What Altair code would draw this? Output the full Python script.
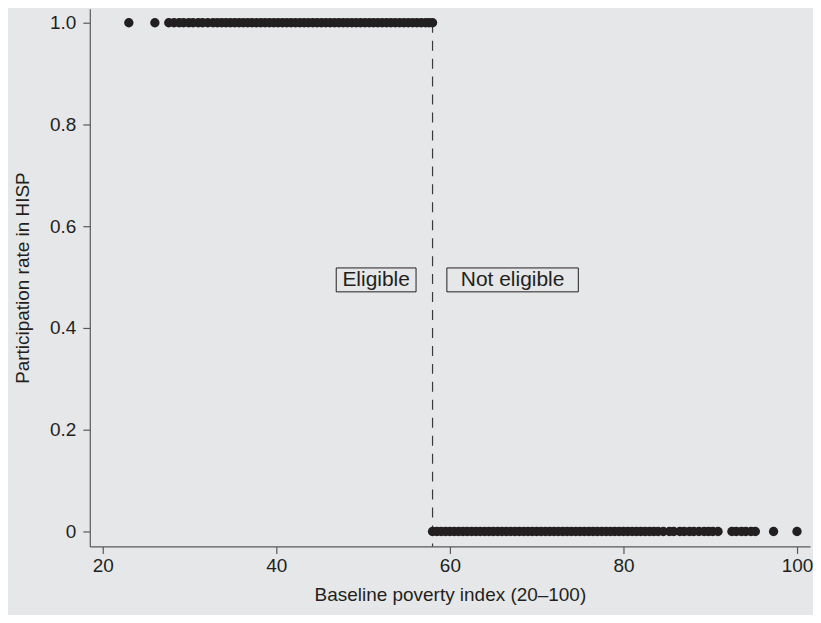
import altair as alt
import pandas as pd

# Participants (eligible, score below cutoff) – participation rate 1
top_x = [23.0, 26.0, 27.6, 28.2, 28.8, 29.3, 29.9, 30.4, 31.0, 31.5, 32.1, 32.7,
         33.2, 33.7, 34.2, 34.7, 35.2, 35.7, 36.2, 36.7, 37.2, 37.7, 38.2, 38.7,
         39.2, 39.7, 40.2, 40.7, 41.2, 41.7, 42.2, 42.7, 43.2, 43.7, 44.2, 44.7,
         45.2, 45.7, 46.2, 46.7, 47.2, 47.7, 48.2, 48.7, 49.2, 49.7, 50.2, 50.7,
         51.2, 51.7, 52.2, 52.7, 53.2, 53.7, 54.2, 54.7, 55.2, 55.7, 56.2, 56.7,
         57.2, 57.6, 58.0]
# Non-eligible (score above cutoff) – participation rate 0
bottom_x = [58.0, 58.5, 59.0, 59.5, 60.0, 60.5, 61.0, 61.5, 62.0, 62.5, 63.0,
            63.5, 64.0, 64.5, 65.0, 65.5, 66.0, 66.5, 67.0, 67.5, 68.0, 68.5,
            69.0, 69.5, 70.0, 70.5, 71.0, 71.5, 72.0, 72.5, 73.0, 73.5, 74.0,
            74.5, 75.0, 75.5, 76.0, 76.5, 77.0, 77.5, 78.0, 78.5, 79.0, 79.5,
            80.0, 80.5, 81.0, 81.5, 82.0, 82.5, 83.0, 83.5, 84.0, 84.6, 85.3,
            85.8, 86.5, 87.0, 87.6, 88.1, 88.7, 89.3, 89.8, 90.3, 90.9, 92.5,
            93.0, 93.6, 94.1, 94.7, 95.2, 97.3, 100.0]

cutoff = 58.0
x_ticks = [20, 40, 60, 80, 100]
y_ticks = [0, 0.2, 0.4, 0.6, 0.8, 1.0]

ann_labels = ["Eligible", "Not eligible"]
ann_x_left = [46.9, 59.65]
ann_x_right = [56.1, 74.8]
ann_y_low = [0.471, 0.471]
ann_y_high = [0.518, 0.518]

pts = pd.DataFrame({
    "score": top_x + bottom_x,
    "rate": [1.0] * len(top_x) + [0.0] * len(bottom_x),
})
ann = pd.DataFrame({
    "label": ann_labels,
    "x1": ann_x_left,
    "x2": ann_x_right,
    "y1": ann_y_low,
    "y2": ann_y_high,
})
ann["xm"] = (ann["x1"] + ann["x2"]) / 2
ann["ym"] = (ann["y1"] + ann["y2"]) / 2
cut = pd.DataFrame({"cutoff": [cutoff], "top": [1.0]})

W, H = 722, 539
FONT = "Liberation Sans"
INK = "#231f20"
BG = "#e6e7e8"

xscale = alt.Scale(domain=[18.5, 101.5], nice=False, zero=False)
yscale = alt.Scale(domain=[-0.0294, 1.0275], nice=False, zero=False)

xaxis = alt.Axis(values=x_ticks, title="Baseline poverty index (20–100)",
                 grid=False, tickSize=7, labelPadding=3, titlePadding=10)
yaxis = alt.Axis(values=y_ticks, title="Participation rate in HISP",
                 grid=False, tickSize=7, labelPadding=7, titlePadding=17,
                 labelExpr="datum.value == 0 ? '0' : format(datum.value, '.1f')")

points = alt.Chart(pts).mark_circle(size=88, color=INK, opacity=1).encode(
    x=alt.X("score:Q", scale=xscale, axis=xaxis),
    y=alt.Y("rate:Q", scale=yscale, axis=yaxis),
)

rule = alt.Chart(cut).mark_rule(color="#3a3a3c", strokeDash=[10, 8], strokeWidth=1.2).encode(
    x=alt.X("cutoff:Q", scale=xscale),
    y=alt.Y("top:Q", scale=yscale),
    y2=alt.value(H),
)

boxes = alt.Chart(ann).mark_rect(fill=BG, stroke=INK, strokeWidth=1).encode(
    x=alt.X("x1:Q", scale=xscale), x2="x2:Q",
    y=alt.Y("y1:Q", scale=yscale), y2="y2:Q",
)
texts = alt.Chart(ann).mark_text(font=FONT, fontSize=21, color=INK, baseline="middle").encode(
    x=alt.X("xm:Q", scale=xscale),
    y=alt.Y("ym:Q", scale=yscale),
    text="label:N",
)

chart = alt.layer(rule, points, boxes, texts).properties(
    width=W, height=H,
    background=BG,
    autosize=alt.AutoSizeParams(type="none"),
    padding={"left": 82, "top": 0, "right": 3, "bottom": 68},
).configure_view(stroke=None).configure_axis(
    domainColor="#58595b", domainWidth=1.2, tickColor="#58595b", tickWidth=1.2,
    labelFont=FONT, labelFontSize=19, labelColor=INK,
    titleFont=FONT, titleFontSize=19, titleColor=INK, titleFontWeight="normal",
)

chart.save("out.html", embed_options={"renderer": "svg", "actions": False})
